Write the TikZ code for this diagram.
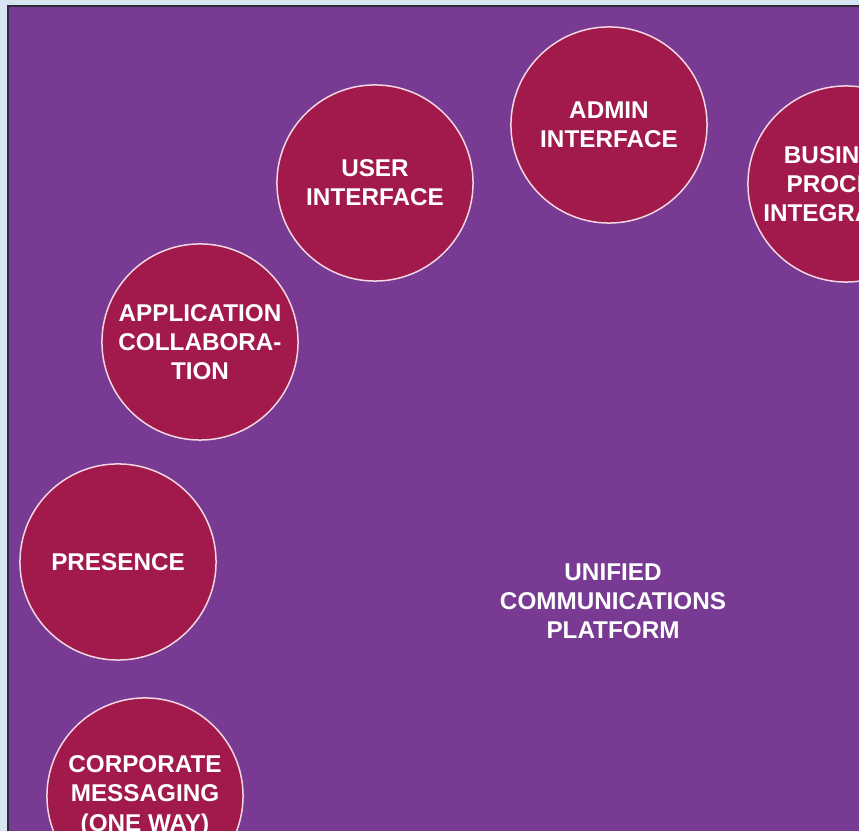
\documentclass[tikz,border=0pt]{standalone}
\usepackage{fontspec}
\setmainfont{Liberation Sans}
\usepackage{xcolor}
\usetikzlibrary{positioning}

\definecolor{pagebg}{HTML}{D7E5F3}
\definecolor{platform}{HTML}{783A93}
\definecolor{frameline}{HTML}{2E2A3A}
\definecolor{bubblefill}{HTML}{A11A4B}
\definecolor{bubbleline}{HTML}{F2D6E2}

\begin{document}
\begin{tikzpicture}[
  x=0.01cm, y=-0.01cm,
  bubble/.style={circle, draw=bubbleline, line width=0.015cm, fill=bubblefill, minimum size=1.96cm, inner sep=0pt, align=center, text=white, font=\fontsize{6.9}{8.3}\selectfont\bfseries},
  label text/.style={align=center, text=white, font=\fontsize{6.9}{8.3}\selectfont\bfseries}
]
  \useasboundingbox (0,0) rectangle (859,831);
  \clip (0,0) rectangle (859,831);
  % page and platform area
  \fill[pagebg] (0,0) rectangle (859,831);
  \fill[platform] (8,6) rectangle (900,900);
  \draw[frameline, line width=0.02cm] (8,900) -- (8,6) -- (900,6);

  % capability bubbles round the platform
  \node[bubble] (corporate) at (145,796) {CORPORATE\\MESSAGING\\(ONE WAY)};
  \node[bubble] (presence) at (118,562) {PRESENCE};
  \node[bubble] (appcollab) at (200,342) {APPLICATION\\COLLABORA-\\TION};
  \node[bubble] (userif) at (375,183) {USER\\INTERFACE};
  \node[bubble] (adminif) at (609,125) {ADMIN\\INTERFACE};
  \node[bubble] (bizproc) at (846,184) {BUSINESS\\PROCESS\\INTEGRATION};

  \node[label text] (platformtext) at (613,601) {UNIFIED\\COMMUNICATIONS\\PLATFORM};
\end{tikzpicture}
\end{document}
